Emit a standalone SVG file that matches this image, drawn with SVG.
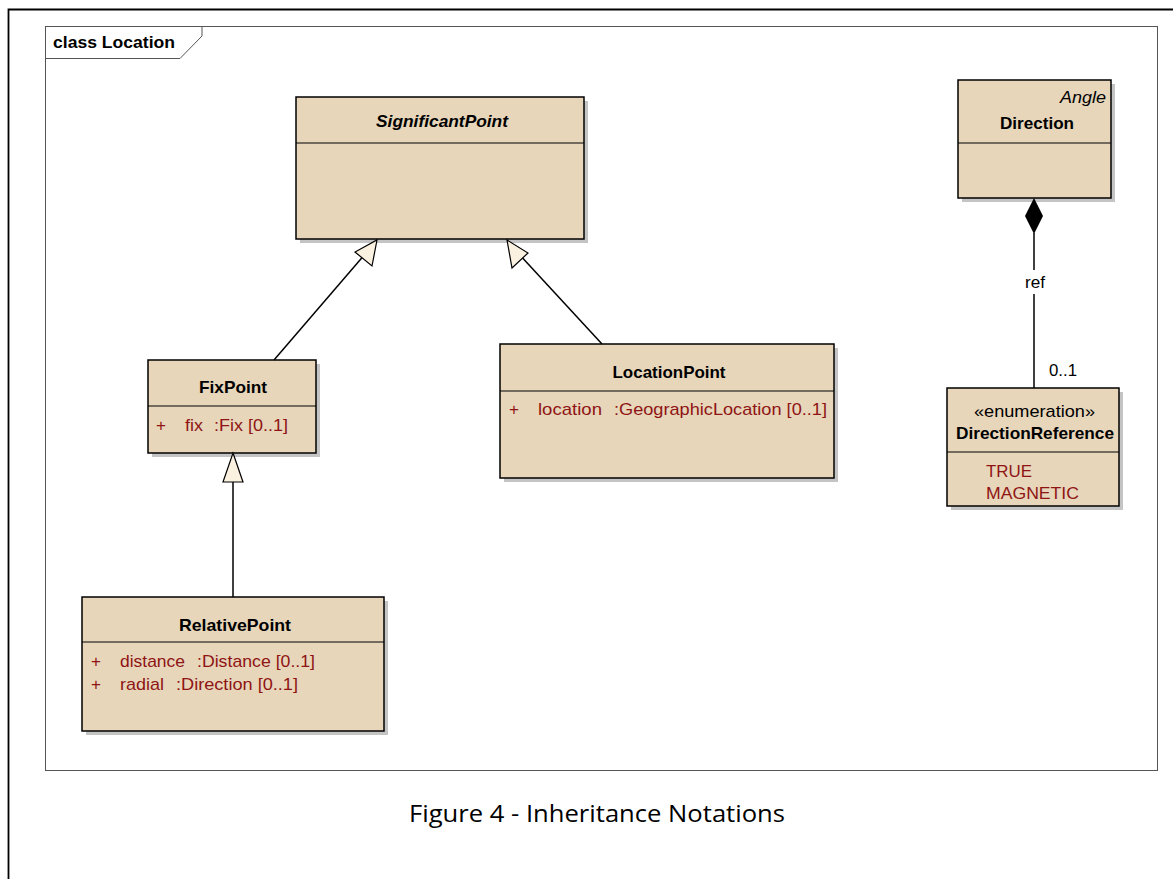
<svg xmlns="http://www.w3.org/2000/svg" width="1173" height="879" viewBox="0 0 1173 879">
<style>
.box{fill:#E7D6BA;stroke:#000;stroke-width:1.5}
.sh{fill:#C4C4C4}
.div{stroke:#000;stroke-width:1.2}
text{font-family:"Liberation Sans",Arial,sans-serif;font-size:17px}
text.cap{font-family:"Open Sans","Liberation Sans",sans-serif;font-size:24px;fill:#000}
.name{font-weight:bold;text-anchor:middle;fill:#000}
.attr{fill:#8F1414}
.lbl{fill:#000}
.con{stroke:#000;stroke-width:1.5;fill:none}
.gen{fill:#FBF1E1;stroke:#000;stroke-width:1.2}
</style>
<rect x="0" y="0" width="1173" height="879" fill="#fff"/>
<path d="M8.5 879 V9.5 H1173" fill="none" stroke="#000" stroke-width="1.8"/>
<g id="frame">
<rect x="45.5" y="26.5" width="1112" height="744" fill="#fff" stroke="#555" stroke-width="1"/>
<path d="M45.5 58.5 H180 L202 36 V26.5" fill="none" stroke="#555" stroke-width="1"/>
<text x="53" y="48" font-weight="bold" textLength="122" lengthAdjust="spacingAndGlyphs">class Location</text>
</g>
<g id="SignificantPoint">
<rect class="sh" x="300" y="101" width="288" height="142"/>
<rect class="box" x="296" y="97" width="288" height="142"/>
<line class="div" x1="296" y1="143" x2="584" y2="143"/>
<text class="name" x="442" y="127" font-style="italic" textLength="132" lengthAdjust="spacingAndGlyphs">SignificantPoint</text>
</g>
<g id="FixPoint">
<rect class="sh" x="152" y="364" width="168" height="93"/>
<rect class="box" x="148" y="360" width="168" height="93"/>
<line class="div" x1="148" y1="406" x2="316" y2="406"/>
<text class="name" x="233" y="393" textLength="68" lengthAdjust="spacingAndGlyphs">FixPoint</text>
<text class="attr" x="156" y="431">+</text>
<text class="attr" x="185" y="431" textLength="18" lengthAdjust="spacingAndGlyphs">fix</text>
<text class="attr" x="214" y="431" textLength="74" lengthAdjust="spacingAndGlyphs">:Fix [0..1]</text>
</g>
<g id="LocationPoint">
<rect class="sh" x="504" y="348" width="334" height="134"/>
<rect class="box" x="500" y="344" width="334" height="134"/>
<line class="div" x1="500" y1="391" x2="834" y2="391"/>
<text class="name" x="669" y="378" textLength="113" lengthAdjust="spacingAndGlyphs">LocationPoint</text>
<text class="attr" x="509" y="415">+</text>
<text class="attr" x="538" y="415" textLength="64" lengthAdjust="spacingAndGlyphs">location</text>
<text class="attr" x="614" y="415" textLength="213" lengthAdjust="spacingAndGlyphs">:GeographicLocation [0..1]</text>
</g>
<g id="RelativePoint">
<rect class="sh" x="86" y="601" width="302" height="134"/>
<rect class="box" x="82" y="597" width="302" height="134"/>
<line class="div" x1="82" y1="642" x2="384" y2="642"/>
<text class="name" x="235" y="631" textLength="112" lengthAdjust="spacingAndGlyphs">RelativePoint</text>
<text class="attr" x="91" y="667">+</text>
<text class="attr" x="120" y="667" textLength="65" lengthAdjust="spacingAndGlyphs">distance</text>
<text class="attr" x="197" y="667" textLength="118" lengthAdjust="spacingAndGlyphs">:Distance [0..1]</text>
<text class="attr" x="91" y="690">+</text>
<text class="attr" x="120" y="690" textLength="44" lengthAdjust="spacingAndGlyphs">radial</text>
<text class="attr" x="176" y="690" textLength="122" lengthAdjust="spacingAndGlyphs">:Direction [0..1]</text>
</g>
<g id="Direction">
<rect class="sh" x="962" y="84" width="153" height="118"/>
<rect class="box" x="958" y="80" width="153" height="118"/>
<line class="div" x1="958" y1="143" x2="1111" y2="143"/>
<text class="lbl" x="1060" y="103" font-style="italic" textLength="46" lengthAdjust="spacingAndGlyphs">Angle</text>
<text class="name" x="1037" y="129" textLength="74" lengthAdjust="spacingAndGlyphs">Direction</text>
</g>
<g id="DirectionReference">
<rect class="sh" x="951" y="392" width="172" height="118"/>
<rect class="box" x="947" y="388" width="172" height="118"/>
<line class="div" x1="947" y1="452" x2="1119" y2="452"/>
<text class="lbl" x="974" y="417" textLength="121" lengthAdjust="spacingAndGlyphs">«enumeration»</text>
<text class="name" x="1035" y="439" textLength="158" lengthAdjust="spacingAndGlyphs">DirectionReference</text>
<text class="attr" x="986" y="477" textLength="46" lengthAdjust="spacingAndGlyphs">TRUE</text>
<text class="attr" x="986" y="499" textLength="93" lengthAdjust="spacingAndGlyphs">MAGNETIC</text>
</g>
<g id="connectors">
<line class="con" x1="274" y1="360" x2="366" y2="253"/>
<polygon class="gen" points="377,240 372,266 355,252"/>
<line class="con" x1="602" y1="344" x2="518" y2="253"/>
<polygon class="gen" points="507,240 528,253 512,268"/>
<line class="con" x1="233" y1="597" x2="233" y2="482"/>
<polygon class="gen" points="233,453 243,482 223,482"/>
<line class="con" x1="1034" y1="233" x2="1034" y2="270"/>
<line class="con" x1="1034" y1="294" x2="1034" y2="388"/>
<polygon points="1034,198 1043,216 1034,234 1025,216" fill="#000"/>
<text class="lbl" x="1025" y="288" textLength="20" lengthAdjust="spacingAndGlyphs">ref</text>
<text class="lbl" x="1049" y="376" textLength="28" lengthAdjust="spacingAndGlyphs">0..1</text>
</g>
<text class="cap" x="409" y="822" textLength="376" lengthAdjust="spacingAndGlyphs">Figure 4 - Inheritance Notations</text>
</svg>
